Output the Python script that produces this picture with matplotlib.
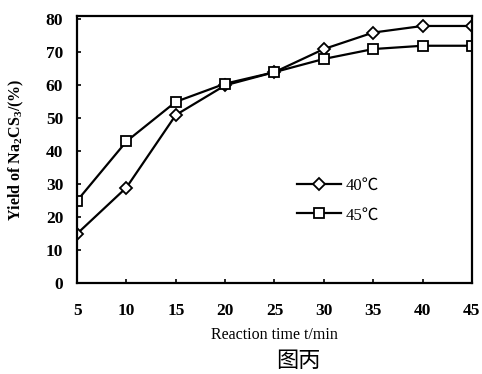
import numpy as np
import matplotlib.pyplot as plt

plt.rcParams['font.family'] = ['Liberation Serif', 'Noto Sans CJK SC', 'DejaVu Sans']
plt.rcParams['mathtext.fontset'] = 'custom'
plt.rcParams['mathtext.rm'] = 'Liberation Serif:bold'
plt.rcParams['mathtext.bf'] = 'Liberation Serif:bold'

t = [5, 10, 15, 20, 25, 30, 35, 40, 45]
y40 = [15, 29, 51, 60, 64, 71, 76, 78, 78]
y45 = [25, 43, 55, 60.5, 64, 68, 71, 72, 72]
xticks = [5, 10, 15, 20, 25, 30, 35, 40, 45]
yticks = [0, 10, 20, 30, 40, 50, 60, 70, 80]

fig = plt.figure(figsize=(4.82, 3.74), dpi=100)
ax = fig.add_axes([0.160, 0.243, 0.819, 0.714])

ax.plot(t, y40, c="black", lw=1.6, marker="D", ms=6, mfc="white", mec="black", mew=1.3, label="40℃")
ax.plot(t, y45, c="black", lw=1.6, marker="s", ms=7, mfc="white", mec="black", mew=1.3, label="45℃")

ax.set_xlim(5, 45)
ax.set_ylim(0, 81)
ax.set_xticks(xticks)
ax.set_yticks(yticks)
ax.tick_params(direction="in", length=3, width=1.2, labelsize=12.5)
ax.tick_params(axis="x", pad=14)
ax.tick_params(axis="y", pad=10)
for lab in ax.get_xticklabels() + ax.get_yticklabels():
    lab.set_fontweight("bold")
for s in ax.spines.values():
    s.set_linewidth(1.6)

ax.set_xlabel("Reaction time t/min", fontsize=11.5, labelpad=6)
ax.set_ylabel(r"Yield of Na$_2$CS$_3$/(%)", fontsize=11.5, fontweight="bold", labelpad=14)

ax.legend(loc="upper left", bbox_to_anchor=(0.52, 0.45), frameon=False, fontsize=12,
          handlelength=2.6, handletextpad=0.3, labelspacing=0.8)

fig.text(0.62, 0.02, "图丙", fontsize=16, ha="center", family=['Noto Sans CJK SC'])

plt.savefig("out.png", dpi=100)
